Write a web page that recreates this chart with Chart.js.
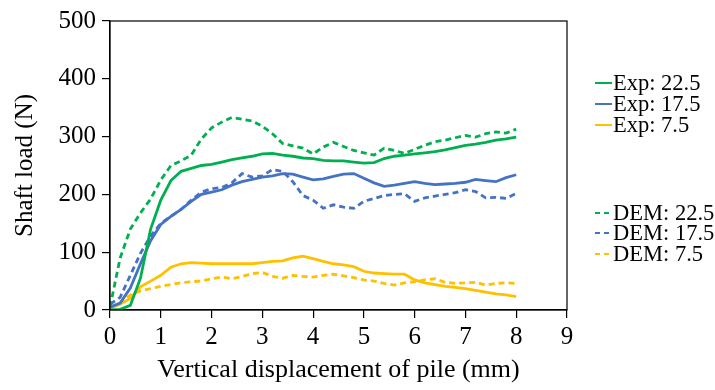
<!DOCTYPE html>
<html>
<head>
<meta charset="utf-8">
<script src="https://cdn.jsdelivr.net/npm/chart.js@4"></script>
<style>
  html, body { margin: 0; padding: 0; background: #fff; }
  #wrap { width: 715px; height: 390px; }
</style>
</head>
<body>
<div id="wrap"><canvas id="grafik"></canvas></div>
<script>
// yer değiştirme (mm)
const yerDegistirme = [0, 0.2, 0.4, 0.6, 0.8, 1.0, 1.2, 1.4, 1.6, 1.8, 2.0, 2.2, 2.4, 2.6, 2.8, 3.0,
  3.2, 3.4, 3.6, 3.8, 4.0, 4.2, 4.4, 4.6, 4.8, 5.0, 5.2, 5.4, 5.6, 5.8, 6.0, 6.2, 6.4, 6.6, 6.8, 7.0,
  7.2, 7.4, 7.6, 7.8, 8.0];

// şaft yükü (N)
const exp225 = [0, 1, 8, 55, 140, 190, 224, 240, 245, 250, 252, 256, 260, 263, 266, 270,
  271, 268, 266, 263, 262, 259, 258, 258, 256, 254, 255, 262, 266, 268, 270, 272, 274, 277, 281, 285,
  287, 290, 294, 296, 299];
const exp175 = [5, 12, 38, 80, 120, 148, 162, 174, 188, 200, 204, 208, 216, 222, 226, 230,
  232, 236, 235, 230, 225, 227, 231, 235, 236, 228, 220, 214, 216, 219, 222, 219, 217, 218, 219, 221,
  226, 224, 222, 229, 234];
const exp75 = [3, 10, 20, 40, 50, 60, 74, 80, 82, 81, 80, 80, 80, 80, 80, 82,
  84, 85, 90, 93, 89, 84, 80, 78, 75, 67, 64, 63, 62, 62, 52, 47, 44, 41, 39, 37,
  34, 31, 28, 26, 23];
const dem225 = [5, 90, 140, 168, 192, 225, 250, 258, 268, 296, 315, 325, 333, 330, 327, 318,
  305, 288, 284, 280, 270, 282, 290, 283, 276, 272, 268, 280, 276, 271, 278, 285, 291, 294, 298, 302,
  299, 305, 308, 306, 313];
const dem175 = [10, 22, 60, 98, 128, 150, 162, 174, 190, 204, 210, 212, 220, 236, 230, 232,
  243, 240, 222, 198, 190, 176, 182, 178, 176, 188, 193, 198, 200, 201, 188, 194, 197, 200, 203, 208,
  205, 194, 195, 193, 202];
const dem75 = [3, 12, 26, 33, 37, 41, 44, 47, 49, 50, 54, 57, 54, 58, 63, 65,
  58, 55, 60, 58, 57, 60, 62, 59, 56, 52, 50, 46, 43, 47, 49, 52, 54, 48, 46, 47,
  48, 43, 46, 47, 46];

const etiketler = ['Exp: 22.5', 'Exp: 17.5', 'Exp: 7.5', 'DEM: 22.5', 'DEM: 17.5', 'DEM: 7.5'];
const xTikleri = [0, 1, 2, 3, 4, 5, 6, 7, 8, 9];
const yTikleri = [0, 100, 200, 300, 400, 500];

const YESIL = '#00B050', MAVI = '#4472C4', SARI = '#FFC000';
const YAZI = 'Liberation Serif, Times New Roman, serif';

const noktalar = seri => seri.map((v, i) => ({ x: yerDegistirme[i], y: v }));

function seriOlustur(etiket, seri, renk, kesikli) {
  return {
    label: etiket,
    data: noktalar(seri),
    borderColor: renk,
    backgroundColor: renk,
    borderWidth: 2.8,
    borderDash: kesikli ? [6, 4] : [],
    pointRadius: 0,
    tension: 0,
    fill: false
  };
}

// çerçeve + sağdaki iki gruplu gösterge
const cerceveVeGosterge = {
  id: 'cerceveVeGosterge',
  afterDraw(chart) {
    const { ctx, chartArea: a } = chart;
    ctx.save();
    ctx.strokeStyle = '#000';
    ctx.lineWidth = 1.2;
    ctx.strokeRect(a.left, a.top, a.right - a.left, a.bottom - a.top);

    const satirY = [83, 104, 125, 213, 233, 254];
    const x0 = a.right + 28;
    ctx.font = '22.5px ' + YAZI;
    ctx.textBaseline = 'middle';
    ctx.fillStyle = '#000';
    chart.data.datasets.forEach((ds, i) => {
      const y = satirY[i];
      ctx.strokeStyle = ds.borderColor;
      ctx.lineWidth = 2;
      ctx.setLineDash(ds.borderDash.length ? [5, 4] : []);
      ctx.beginPath();
      ctx.moveTo(x0, y);
      ctx.lineTo(x0 + 17, y);
      ctx.stroke();
      ctx.setLineDash([]);
      ctx.fillText(ds.label, x0 + 18, y + 1);
    });
    ctx.restore();
  }
};

new Chart(document.getElementById('grafik'), {
  type: 'line',
  data: {
    datasets: [
      seriOlustur(etiketler[0], exp225, YESIL, false),
      seriOlustur(etiketler[1], exp175, MAVI, false),
      seriOlustur(etiketler[2], exp75, SARI, false),
      seriOlustur(etiketler[3], dem225, YESIL, true),
      seriOlustur(etiketler[4], dem175, MAVI, true),
      seriOlustur(etiketler[5], dem75, SARI, true)
    ]
  },
  options: {
    responsive: true,
    maintainAspectRatio: false,
    animation: false,
    layout: { padding: { top: 17, right: 148, left: 0, bottom: 0 } },
    plugins: { legend: { display: false }, tooltip: { enabled: false } },
    scales: {
      x: {
        type: 'linear',
        min: 0, max: 9,
        afterBuildTicks: s => { s.ticks = xTikleri.map(v => ({ value: v })); },
        afterFit: s => { s.height = 80; },
        grid: { display: true, drawOnChartArea: false, drawTicks: true, tickLength: 8, color: '#000', lineWidth: 1.2 },
        border: { display: true, color: '#000', width: 1.2 },
        ticks: { color: '#000', font: { family: YAZI, size: 25 }, padding: 4, maxRotation: 0 },
        title: { display: true, text: 'Vertical displacement of pile (mm)', color: '#000',
          font: { family: YAZI, size: 26 }, padding: { top: 0, bottom: 4 } }
      },
      y: {
        type: 'linear',
        min: 0, max: 500,
        afterBuildTicks: s => { s.ticks = yTikleri.map(v => ({ value: v })); },
        afterFit: s => { s.width = 110; },
        grid: { display: true, drawOnChartArea: false, drawTicks: true, tickLength: 8, color: '#000', lineWidth: 1.2 },
        border: { display: true, color: '#000', width: 1.2 },
        ticks: { color: '#000', font: { family: YAZI, size: 25 }, padding: 6 },
        title: { display: true, text: 'Shaft load (N)', color: '#000',
          font: { family: YAZI, size: 25 }, padding: { top: 10, bottom: 0 } }
      }
    }
  },
  plugins: [cerceveVeGosterge]
});
</script>
</body>
</html>
